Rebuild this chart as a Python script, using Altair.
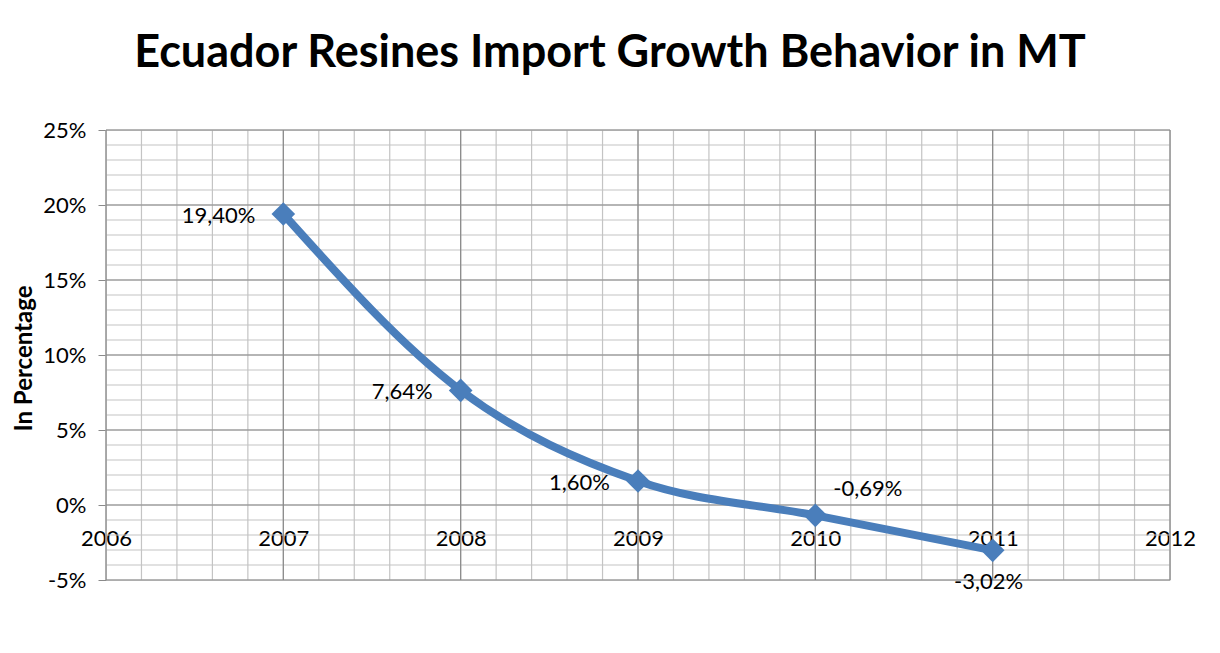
import altair as alt
import pandas as pd

years = [2007, 2008, 2009, 2010, 2011]
growth_pct = [19.40, 7.64, 1.60, -0.69, -3.02]
labels = [f"{v:.2f}".replace(".", ",") + "%" for v in growth_pct]

x_major = [2006, 2007, 2008, 2009, 2010, 2011, 2012]
y_major = [-0.05, 0.0, 0.05, 0.10, 0.15, 0.20, 0.25]
x_minor = [round(2006 + i * 0.2, 2) for i in range(31)]
y_minor = [round(-0.05 + i * 0.01, 2) for i in range(31)]

df = pd.DataFrame({"year": years, "value": [v / 100 for v in growth_pct], "label": labels})

FONT = "Lato"
LINE = "#4A7EBB"

xs = alt.Scale(domain=[2006, 2012], nice=False, zero=False)
ys = alt.Scale(domain=[-0.05, 0.25], nice=False, zero=False)

x_axis = alt.Axis(values=x_major, format="d", grid=False, domain=False, ticks=False,
                  offset=-76, labelPadding=24, labelFontSize=22, labelFont=FONT,
                  labelColor="#000000", title=None, labelFlush=False)
y_axis = alt.Axis(values=y_major, grid=False, domain=False, tickSize=8, tickColor="#8a8a8a",
                  labelExpr="round(datum.value*100) + '%'", labelPadding=12,
                  labelFontSize=22, labelFont=FONT, labelColor="#000000",
                  title="In Percentage", titleFont=FONT, titleFontSize=24,
                  titleFontWeight="bold", titleColor="#000000",
                  titleX=-82, titleY=228, titleBaseline="middle")

W, H = 1064, 450

minor_v = alt.Chart(pd.DataFrame({"g": x_minor})).mark_rule(color="#c4c4c4", strokeWidth=1.2).encode(
    x=alt.X("g:Q", scale=xs, axis=x_axis))
minor_h = alt.Chart(pd.DataFrame({"g": y_minor})).mark_rule(color="#c4c4c4", strokeWidth=1.2).encode(
    y=alt.Y("g:Q", scale=ys, axis=y_axis))
major_v = alt.Chart(pd.DataFrame({"g": x_major})).mark_rule(color="#8a8a8a", strokeWidth=1.2).encode(
    x=alt.X("g:Q", scale=xs, axis=x_axis))
major_h = alt.Chart(pd.DataFrame({"g": y_major})).mark_rule(color="#8a8a8a", strokeWidth=1.2).encode(
    y=alt.Y("g:Q", scale=ys, axis=y_axis))

base = alt.Chart(df)
X = alt.X("year:Q", scale=xs, axis=x_axis)
Y = alt.Y("value:Q", scale=ys, axis=y_axis)

line = base.mark_line(color=LINE, strokeWidth=8, interpolate="monotone").encode(x=X, y=Y)

points = base.mark_point(shape="diamond", filled=True, size=560, color=LINE, opacity=1).encode(x=X, y=Y)

txt_left = base.transform_filter("datum.year <= 2009").mark_text(
    align="right", baseline="middle", dx=-28, dy=2, fontSize=22, font=FONT, color="#000000").encode(
    x=X, y=Y, text="label:N")
txt_2010 = base.transform_filter("datum.year == 2010").mark_text(
    align="left", baseline="middle", dx=18, dy=-26, fontSize=22, font=FONT, color="#000000").encode(
    x=X, y=Y, text="label:N")
txt_2011 = base.transform_filter("datum.year == 2011").mark_text(
    align="center", baseline="middle", dx=-4, dy=32, fontSize=22, font=FONT, color="#000000").encode(
    x=X, y=Y, text="label:N")

chart = alt.layer(minor_v, minor_h, major_v, major_h, line, points, txt_left, txt_2010, txt_2011).properties(
    width=W, height=H,
    title=alt.TitleParams("Ecuador Resines Import Growth Behavior in MT", font=FONT, fontSize=45,
                          fontWeight="bold", color="#000000", anchor="middle", offset=43, dx=-28),
    autosize=alt.AutoSizeParams(type="none"),
    padding={"left": 98, "top": 122, "right": 42, "bottom": 65},
).configure_view(stroke=None).configure(background="white")

chart.save("out.html", embed_options={"renderer": "svg", "actions": False})
